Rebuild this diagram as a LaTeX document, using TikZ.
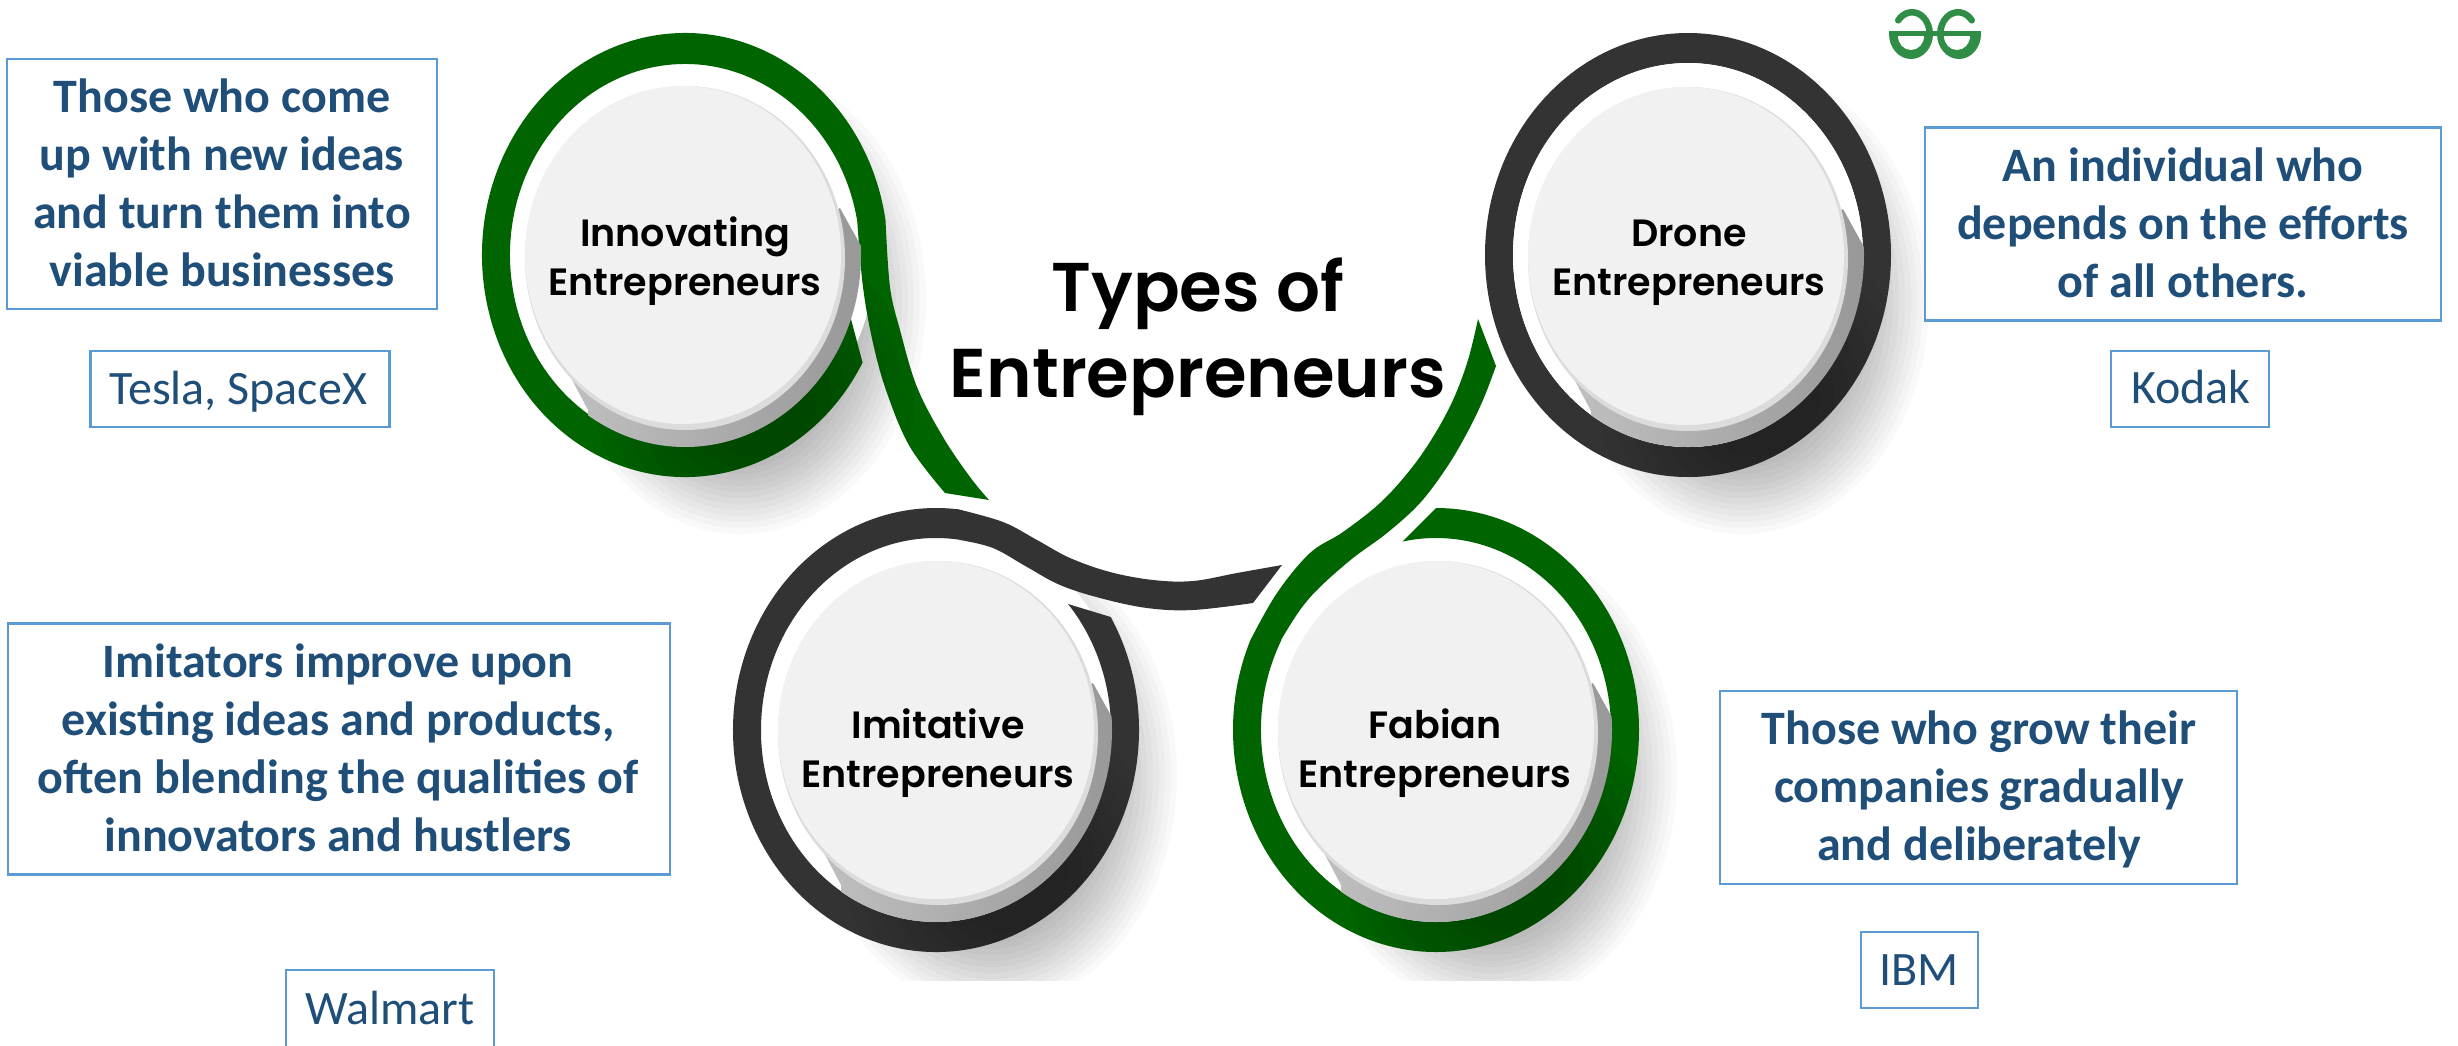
\documentclass[tikz,border=0pt]{standalone}
\usepackage{fontspec}
\newfontfamily\carl{Carlito}
\newfontfamily\popS{Poppins SemiBold}
\newfontfamily\popM{Poppins Medium}
\definecolor{ringgreen}{HTML}{006400}
\definecolor{ringdark}{HTML}{333333}
\definecolor{discface}{HTML}{F1F1F1}
\definecolor{disclip}{HTML}{DCDCDC}
\definecolor{boxline}{HTML}{5B9BD5}
\definecolor{boxtext}{HTML}{1F4E79}
\definecolor{logogreen}{HTML}{2F8D46}
\tikzset{
  boxst/.style={draw=boxline,line width=2.6pt,inner sep=0pt,outer sep=0pt,fill=white},
  txtb/.style={font=\carl\bfseries\fontsize{48}{58}\selectfont,text=boxtext,align=center,inner sep=0pt},
  txtr/.style={font=\carl\fontsize{48}{58}\selectfont,text=boxtext,align=center,inner sep=0pt},
  lab/.style={font=\popS\fontsize{38}{49}\selectfont,text=black,align=center,inner sep=0pt},
  ttl/.style={font=\popS\fontsize{69}{86}\selectfont,text=black,align=center,inner sep=0pt},
  logost/.style={draw=logogreen,line width=6.5pt,line cap=round}
}
\newcommand{\eat}[5]{([shift={(#1,#2)}]#3:#4pt and #5pt)}
\newcommand{\earc}[6]{-- ([shift={(#1,#2)}]#3:#5pt and #6pt) arc[start angle=#3,end angle=#4,x radius=#5pt,y radius=#6pt]}
\newcommand{\softshadow}[2]{%
  \foreach \i in {1,...,12}{%
    \fill[black,opacity=.022] ({#1+55},{#2+45}) ellipse[x radius={(192-6*\i)*1pt},y radius={(240-6*\i)*1pt}];
  }}
\newcommand{\ringdarken}[2]{%
  \foreach \i in {1,...,8}{%
    \fill[black,opacity=.035] ({#1+70},{#2+140}) ellipse[x radius={(48+14*\i)*1pt},y radius={(48+14*\i)*1pt}];
  }}
\newcommand{\disc}[4]{%
  \begin{scope}
    \clip (#3,#4) ellipse[x radius=176pt,y radius=192pt];
    \shade[left color=black!25,right color=black!52]
      ({#1+155},{#2-50}) -- ({#1+176},{#2-12}) -- ({#1+400},{#2-12}) -- ({#1+400},{#2+400})
      -- ({#1-97},{#2+400}) -- ({#1-97},{#2+152}) -- ({#1-115},{#2+118}) -- cycle;
  \end{scope}
  \fill[disclip] (#1,#2) ellipse[x radius=160pt,y radius=172pt];
  \fill[discface] ({#1-2},{#2-3}) ellipse[x radius=158pt,y radius=169pt];
}
\newcommand{\ringInnov}{\eat{685}{255}{29}{203}{222}
  arc[start angle=29,end angle=351,x radius=203pt,y radius=222pt]
  -- plot[smooth,tension=.6] coordinates {(885.5,220) (890,287) (900,330) (917,387) (943,437) (970,477) (989,500)}
  -- plot[smooth,tension=.6] coordinates {(945,493) (910,447) (887,393) (873,343) (863,287) (857.3,222)}
  \earc{685}{255}{-10}{-341}{175}{191} -- cycle}
\newcommand{\ringImit}{\eat{936}{730}{-30.6}{203}{222}
  arc[start angle=-30.6,end angle=276,x radius=203pt,y radius=222pt]
  -- plot[smooth,tension=.6] coordinates {(957,509) (1003,522) (1037,540) (1070,558) (1110,572) (1153,580) (1193,581) (1237,573) (1282,565)}
  -- plot[smooth,tension=.6] coordinates {(1253,603) (1193,610) (1147,608) (1100,598) (1060,585) (1027,567) (993,548) (960,540)}
  \earc{936}{730}{278}{-41}{175}{192} -- cycle}
\newcommand{\ringFab}{\eat{1436}{730}{-90}{203}{222}
  arc[start angle=-90,end angle=204,x radius=203pt,y radius=222pt]
  -- plot[smooth,tension=.6] coordinates {(1250.6,639.7) (1277,593) (1310,553) (1343,532) (1380,503) (1410,470) (1433,437) (1453,400) (1468,360) (1478,319)}
  -- plot[smooth,tension=.6] coordinates {(1496,366) (1483,400) (1467,433) (1447,467) (1420,503) (1387,533) (1353,558) (1320,587) (1300,610) (1281,640)}
  \earc{1436}{730}{208}{-101}{175}{192} -- cycle}
\begin{document}
\begin{tikzpicture}[x=1pt,y=1pt,yscale=-1]
\useasboundingbox (0,0) rectangle (2458,1045);
\clip (0,0) rectangle (2458,1045);
\fill[white] (0,0) rectangle (2458,1045);
% soft shadows
\begin{scope}
  \clip (0,0) rectangle (2458,980);
  \softshadow{685}{255}
  \softshadow{1688}{255}
  \softshadow{936}{730}
  \softshadow{1436}{730}
\end{scope}
% white wells
\fill[white] (685,255) ellipse[x radius=190pt,y radius=205pt];
\fill[white] (1688,255) ellipse[x radius=190pt,y radius=205pt];
\fill[white] (936,730) ellipse[x radius=190pt,y radius=205pt];
\fill[white] (1436,730) ellipse[x radius=190pt,y radius=205pt];
% rings
\fill[ringgreen] \ringInnov;
\begin{scope}\clip \ringInnov; \ringdarken{685}{255} \end{scope}
\fill[ringdark,even odd rule] (1688,255) ellipse[x radius=203pt,y radius=222pt] (1688,255) ellipse[x radius=175pt,y radius=192pt];
\begin{scope}
  \clip (1688,255) ellipse[x radius=203pt,y radius=222pt];
  \ringdarken{1688}{255}
\end{scope}
\fill[white] (1688,255) ellipse[x radius=175pt,y radius=192pt];
\fill[ringdark] \ringImit;
\begin{scope}\clip \ringImit; \ringdarken{936}{730} \end{scope}
\fill[ringgreen] \ringFab;
\begin{scope}\clip \ringFab; \ringdarken{1436}{730} \end{scope}
% discs
\disc{685}{258}{685}{255}
\disc{1688}{259}{1688}{255}
\disc{938}{733}{936}{730}
\disc{1438}{733}{1436}{730}
% labels
\node[lab] (innov) at (685,261) {\strut Innovating\\Entrepreneurs\strut};
\node[lab] (drone) at (1689,261) {\strut Drone\\Entrepreneurs\strut};
\node[lab] (imit) at (938,753) {\strut Imitative\\Entrepreneurs\strut};
\node[lab] (fab) at (1435,753) {\strut Fabian\\Entrepreneurs\strut};
\node[ttl] (title) at (1198,337) {\strut Types of\\Entrepreneurs\strut};
% text boxes
\node[boxst,minimum width=430pt,minimum height=250pt] (b1) at (222,184) {};
\node[txtb] (t1) at (222,188) {\strut Those who come\\up with new ideas\\and turn them into\\viable businesses\strut};
\node[boxst,minimum width=299pt,minimum height=76pt] (b1e) at (240,389) {};
\node[txtr] (t1e) at (238,393) {\strut Tesla, SpaceX\strut};
\node[boxst,minimum width=662pt,minimum height=251pt] (b2) at (339,749) {};
\node[txtb] (t2) at (338,753) {\strut Imitators improve upon\\existing ideas and products,\\often blending the qualities of\\innovators and hustlers\strut};
\node[boxst,minimum width=208pt,minimum height=100pt] (b2e) at (390,1020) {};
\node[txtr] (t2e) at (390,1013) {\strut Walmart\strut};
\node[boxst,minimum width=516pt,minimum height=193pt] (b3) at (2183,224) {};
\node[txtb] (t3) at (2183,228) {\strut An individual who\\depends on the efforts\\of all others.\strut};
\node[boxst,minimum width=158pt,minimum height=76pt] (b3e) at (2190,389) {};
\node[txtr] (t3e) at (2191,392) {\strut Kodak\strut};
\node[boxst,minimum width=517pt,minimum height=193pt] (b4) at (1978.5,787.5) {};
\node[txtb] (t4) at (1979,791) {\strut Those who grow their\\companies gradually\\and deliberately\strut};
\node[boxst,minimum width=117pt,minimum height=76pt] (b4e) at (1919.5,970) {};
\node[txtr] (t4e) at (1919,974) {\strut IBM\strut};
% logo
\fill[logogreen] (1889,34) arc[start angle=180,end angle=0,x radius=22pt,y radius=25pt] -- cycle;
\fill[logogreen] (1937,34) arc[start angle=180,end angle=0,x radius=22pt,y radius=25pt] -- cycle;
\fill[white] (1898,36) arc[start angle=180,end angle=0,x radius=13pt,y radius=14pt] -- cycle;
\fill[white] (1944,36) arc[start angle=180,end angle=0,x radius=13pt,y radius=14pt] -- cycle;
\fill[logogreen] (1889,31) rectangle (1981,36);
\draw[logost] \eat{1912}{34}{-141}{17.75}{21.75} arc[start angle=-141,end angle=0,x radius=17.75pt,y radius=21.75pt];
\draw[logost] \eat{1958}{34}{-39}{17.75}{21.75} arc[start angle=-39,end angle=-180,x radius=17.75pt,y radius=21.75pt];
\end{tikzpicture}
\end{document}
